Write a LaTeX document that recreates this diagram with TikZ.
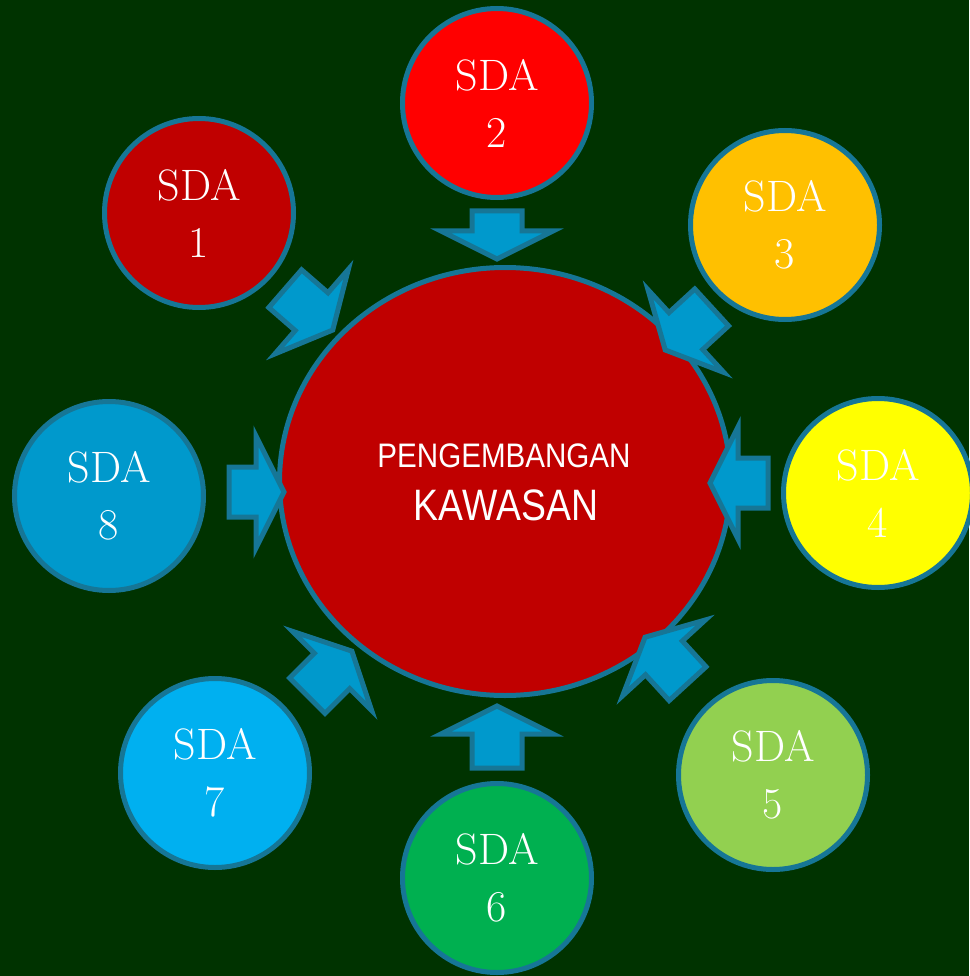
\documentclass[tikz,border=0pt]{standalone}
\usepackage{fontspec}
\usetikzlibrary{shapes.geometric}
\newfontfamily\censans{Liberation Sans}
\definecolor{bg}{RGB}{0,51,0}
\definecolor{ring}{RGB}{22,118,150}
\definecolor{arrfill}{RGB}{0,153,204}
\definecolor{arredge}{RGB}{22,118,150}
\definecolor{cc}{RGB}{192,0,0}
\definecolor{c1}{RGB}{192,0,0}
\definecolor{c2}{RGB}{255,0,0}
\definecolor{c3}{RGB}{255,192,0}
\definecolor{c4}{RGB}{255,255,0}
\definecolor{c5}{RGB}{146,208,80}
\definecolor{c6}{RGB}{0,176,80}
\definecolor{c7}{RGB}{0,176,240}
\definecolor{c8}{RGB}{0,153,204}
\newcommand\blockarrow[4]{\draw[blockarr, shift={(#1,#2)}, rotate=#3] (-#4,25) -- (-31,25) -- (-31,56) -- (-3,0) -- (-31,-56) -- (-31,-25) -- (-#4,-25) -- cycle;}
\tikzset{
  sda/.style={circle, draw=ring, line width=5pt, minimum size=189pt, inner sep=0pt,
    text=white, align=center, font=\fontsize{44}{57}\selectfont},
  blockarr/.style={fill=arrfill, draw=arredge, line width=5pt, line join=miter},
  centre/.style={ellipse, draw=ring, line width=5pt, fill=cc, minimum width=451pt, minimum height=428pt, inner sep=0pt},
  ctext/.style={text=white, anchor=base, inner sep=0pt}
}
\begin{document}
\begin{tikzpicture}[x=1pt,y=-1pt]
\fill[bg] (0,0) rectangle (969,976);
\useasboundingbox (0,0) rectangle (969,976);
\node[centre] (kaw) at (505,481.5) {};
\node[ctext] (t1) at (504,467) {\censans\fontsize{34}{40}\selectfont\scalebox{0.87}[1]{PENGEMBANGAN}};
\node[ctext] (t2) at (506,520) {\censans\fontsize{44}{50}\selectfont\scalebox{0.85}[1]{KAWASAN}};
\node[sda, fill=c1] (s1) at (199,213) {SDA\\1};
\node[sda, fill=c2] (s2) at (497,103) {SDA\\2};
\node[sda, fill=c3] (s3) at (785,225) {SDA\\3};
\node[sda, fill=c4] (s4) at (878,493) {SDA\\4};
\node[sda, fill=c5] (s5) at (773,775) {SDA\\5};
\node[sda, fill=c6] (s6) at (497,878) {SDA\\6};
\node[sda, fill=c7] (s7) at (215,773) {SDA\\7};
\node[sda, fill=c8] (s8) at (109,496) {SDA\\8};
\blockarrow{335}{332}{-41}{66}
\blockarrow{497}{262}{-90}{51}
\blockarrow{663}{352}{-137.5}{66}
\blockarrow{707}{483}{180}{61}
\blockarrow{643}{635}{132.5}{66}
\blockarrow{497}{703}{90}{65}
\blockarrow{354}{649}{45}{66}
\blockarrow{287}{492}{0}{58}
\end{tikzpicture}
\end{document}
